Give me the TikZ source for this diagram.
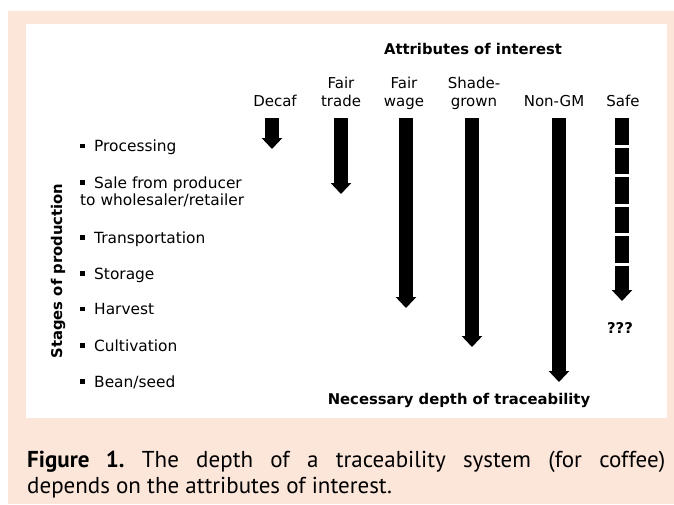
\documentclass[tikz,border=0pt]{standalone}
\usepackage{fontspec}
\usepackage{tikz}
\usetikzlibrary{arrows.meta}
\newfontfamily\pixfont{DejaVu Sans}
\newfontfamily\capfont{PT Sans}
\definecolor{peach}{RGB}{252,229,217}
\newcommand\stagemark{\rule[3.5pt]{4.5pt}{4.5pt}\hspace{9.5pt}}
\frenchspacing

\begin{document}
\begin{tikzpicture}[x=1pt,y=-1pt,
    attrib/.style={font=\pixfont\fontsize{15}{18.4}\selectfont, align=center, inner sep=0pt, text depth=0pt, anchor=south},
    stage/.style={font=\pixfont\fontsize{15.4}{17.4}\selectfont, align=left, inner sep=0pt, text depth=0pt, anchor=south west},
    heading/.style={font=\pixfont\bfseries\fontsize{14.8}{17}\selectfont, inner sep=0pt, anchor=base},
    traceline/.style={line width=13.5pt, -{Triangle[width=20pt,length=11pt]}},
    caption/.style={font=\capfont\fontsize{23}{26}\selectfont, inner sep=0pt, anchor=base west}]
      \useasboundingbox (0,0) rectangle (674,504);
      \fill[peach] (8,11) rectangle (674,504);
      \fill[white] (26,24) rectangle (667,418);
      % headings
      \node[heading] (attributes) at (473,54) {Attributes of interest};
      \node[heading, rotate=90, anchor=center] (stages) at (58,271) {Stages of production};
      \node[heading] (necessary) at (459,404.3) {Necessary depth of traceability};
      % attributes
      \node[attrib] (decaf) at (275,106.7) {Decaf};
      \node[attrib] (fairtrade) at (341,106.7) {Fair\\trade};
      \node[attrib] (fairwage) at (404,106.7) {Fair\\wage};
      \node[attrib] (shade) at (474,106.7) {Shade-\\grown};
      \node[attrib] (nongm) at (554,106.7) {Non-GM};
      \node[attrib] (safe) at (623,106.7) {Safe};
      % stages
      \node[stage] (processing) at (80,151.7) {\stagemark Processing};
      \node[stage] (sale) at (80,205.7) {\stagemark Sale from producer\\to wholesaler/retailer};
      \node[stage] (transport) at (80,243.3) {\stagemark Transportation};
      \node[stage] (storage) at (80,279.3) {\stagemark Storage};
      \node[stage] (harvest) at (80,315) {\stagemark Harvest};
      \node[stage] (cultivation) at (80,351.3) {\stagemark Cultivation};
      \node[stage] (bean) at (80,387.3) {\stagemark Bean/seed};
      % depth arrows
      \coordinate (decaf top) at (272,118);
      \coordinate (decaf end) at (272,149);
      \coordinate (fairtrade top) at (341,118);
      \coordinate (fairtrade end) at (341,194);
      \coordinate (fairwage top) at (406,118);
      \coordinate (fairwage end) at (406,308);
      \coordinate (shade top) at (472,118);
      \coordinate (shade end) at (472,347);
      \coordinate (nongm top) at (559,118);
      \coordinate (nongm end) at (559,382);
      \coordinate (safe top) at (622,118);
      \coordinate (safe end) at (622,301);
      \draw [traceline] (decaf top) to (decaf end);
      \draw [traceline] (fairtrade top) to (fairtrade end);
      \draw [traceline] (fairwage top) to (fairwage end);
      \draw [traceline] (shade top) to (shade end);
      \draw [traceline] (nongm top) to (nongm end);
      \draw [traceline, dash pattern=on 26.5pt off 3pt] (safe top) to (safe end);
      \node[heading] (unknown) at (620,333) {???};
      % caption
      \node[caption] (figline) at (27,467) {\makebox[638pt][s]{{\bfseries Figure 1.} The depth of a traceability system (for coffee)}};
      \node[caption] (figline2) at (27,493) {depends on the attributes of interest.};
    \end{tikzpicture}
\end{document}
